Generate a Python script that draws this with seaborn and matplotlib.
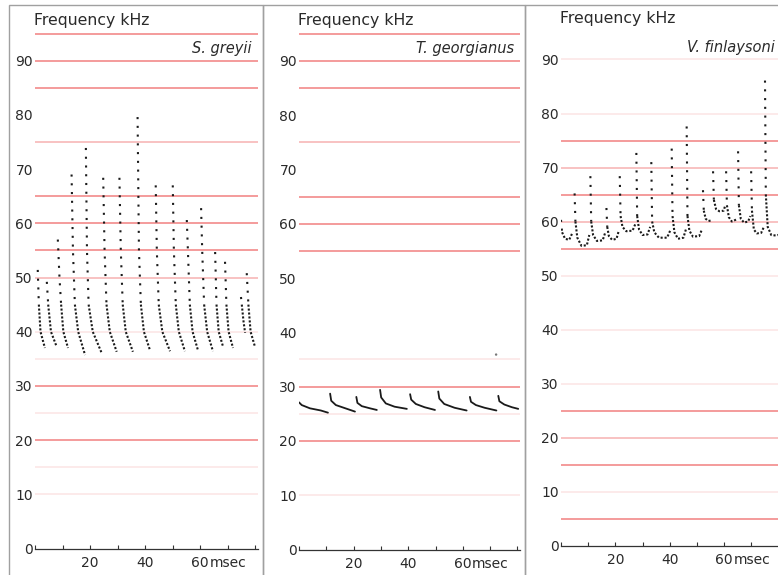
import matplotlib
matplotlib.use("Agg")
import matplotlib.pyplot as plt
import seaborn as sns
import pandas as pd
from matplotlib.patches import Rectangle

sns.set_theme(style="white")
plt.rcParams["font.family"] = ["DejaVu Sans"]

# ---------------- data ----------------
species = ["S. greyii", "T. georgianus", "V. finlaysoni"]
freq_ticks = [0, 10, 20, 30, 40, 50, 60, 70, 80, 90]
time_ticks = [20, 40, 60]
time_minor = [0, 10, 30, 50, 70, 80]
grid_levels = [5, 10, 15, 20, 25, 30, 35, 40, 45, 50, 55, 60, 65, 70, 75, 80, 85, 90, 95]
# 0 = no line, 1 = faint, 2 = medium, 3 = strong
grid_p1 = [0, 1, 1, 3, 1, 3, 1, 1, 0, 2, 3, 3, 3, 0, 2, 0, 3, 3, 3]
grid_p2 = [0, 1, 0, 3, 1, 3, 1, 0, 0, 0, 3, 3, 3, 0, 2, 0, 3, 3, 3]
grid_p3 = [3, 1, 3, 2, 3, 1, 0, 1, 0, 1, 3, 2, 3, 2, 3, 1, 0, 1, 0]

# S. greyii calls (time msec, frequency kHz)
p1_t = [
    [1.0, 1.4, 2.0, 3.6],
    [4.3, 4.8, 5.8, 7.9],
    [8.3, 8.9, 9.5, 10.3, 12.0],
    [13.3, 13.8, 14.5, 15.7, 18.2],
    [18.5, 18.9, 19.5, 21.0, 24.3],
    [24.8, 25.3, 26.0, 27.2, 29.7],
    [30.7, 31.2, 31.9, 33.0, 35.6],
    [37.3, 37.8, 38.5, 39.6, 41.8],
    [43.9, 44.3, 45.0, 46.3, 49.1],
    [50.1, 50.5, 51.2, 52.3, 54.5],
    [55.2, 55.6, 56.3, 57.3, 59.3],
    [60.4, 60.8, 61.5, 62.6, 64.7],
    [65.5, 66.0, 66.8, 68.4],
    [69.1, 69.6, 70.4, 72.0],
    [74.9, 75.2, 75.8, 76.4],
    [77.0, 77.6, 78.4, 80.0],
]
p1_f = [
    [51.4, 45, 40, 37.0],
    [49.2, 45, 40, 37.2],
    [57, 50, 45, 40, 37],
    [69, 55, 45, 40, 35.7],
    [73.9, 55, 45, 40, 36],
    [68.4, 55, 45, 40, 36.3],
    [68.4, 55, 45, 40, 36.3],
    [79.6, 55, 45, 40, 36.6],
    [67, 55, 45, 40, 36.4],
    [67, 55, 45, 40, 36.4],
    [60.6, 55, 45, 40, 36.5],
    [62.8, 55, 45, 40, 36.4],
    [54.7, 45, 40, 37.2],
    [52.9, 45, 40, 37],
    [46.4, 45, 42, 39.8],
    [50.8, 45, 40, 37.2],
]

# T. georgianus calls
p2_t = [
    [0.0, 1.0, 4.0, 8.0, 10.6],
    [11.4, 11.8, 13.5, 17.0, 20.5],
    [21.0, 21.4, 23.0, 26.0, 28.5],
    [29.7, 30.1, 31.8, 35.0, 39.5],
    [40.7, 41.1, 42.8, 46.0, 49.8],
    [51.0, 51.4, 53.2, 57.0, 61.4],
    [62.6, 63.0, 64.8, 68.0, 72.3],
    [73.0, 73.4, 75.2, 78.0, 80.3],
]
p2_f = [
    [27.1, 26.6, 26.0, 25.6, 25.2],
    [28.7, 27.4, 26.6, 26.0, 25.4],
    [28.1, 27.0, 26.4, 26.0, 25.7],
    [29.4, 28.0, 26.9, 26.3, 25.9],
    [28.6, 27.6, 26.8, 26.2, 25.7],
    [29.1, 27.8, 26.8, 26.1, 25.6],
    [28.1, 27.2, 26.6, 26.1, 25.6],
    [28.3, 27.3, 26.7, 26.2, 25.9],
]
p2_stray_t = [72.2]
p2_stray_f = [35.9]

# V. finlaysoni calls
p3_t = [
    [0.0, 0.4, 1.5, 3.0, 4.3],
    [5.0, 5.3, 6.0, 7.5, 9.5, 10.4],
    [10.8, 11.1, 11.8, 13.2, 15.3, 16.3],
    [16.7, 17.0, 17.6, 18.8, 20.4, 21.2],
    [21.6, 21.9, 22.6, 24.0, 26.3, 27.3],
    [27.7, 28.0, 28.7, 30.0, 31.8, 32.8],
    [33.2, 33.5, 34.3, 36.0, 39.0, 40.3],
    [40.7, 41.0, 41.7, 43.0, 45.0, 45.9],
    [46.2, 46.5, 47.2, 48.5, 50.8, 51.8],
    [52.2, 52.5, 53.2, 54.2, 55.5],
    [55.9, 56.2, 57.0, 58.2, 59.8, 60.4],
    [60.7, 61.0, 61.7, 62.8, 64.6],
    [65.1, 65.4, 66.1, 67.3, 68.8, 69.6],
    [69.9, 70.2, 70.9, 72.0, 73.6, 74.6],
    [75.0, 75.3, 76.0, 77.3, 79.0, 80.5],
]
p3_f = [
    [60.3, 58.0, 56.8, 56.6, 58.0],
    [65.2, 60, 57, 55.5, 55.6, 57.5],
    [68.4, 60, 57.5, 56.4, 56.5, 58],
    [62.5, 59, 57.3, 56.6, 56.8, 58.2],
    [68.4, 61, 59, 58.2, 58.3, 59.5],
    [72.7, 61, 58.5, 57.5, 57.6, 59],
    [71, 60, 58, 57.0, 57.0, 58.5],
    [73.5, 61, 58, 56.8, 57, 58.5],
    [77.6, 61, 58.3, 57.2, 57.3, 58.5],
    [65.8, 62, 60.5, 60.1, 60.2],
    [69.3, 64, 62.3, 61.9, 62.0, 63],
    [69.3, 63, 60.8, 60.0, 60.4],
    [73, 63, 60.5, 59.8, 60, 61],
    [69.3, 62, 58.5, 57.8, 57.9, 59],
    [86.1, 65, 59, 57.5, 57.4, 57.6],
]


def build_frame(calls_t, calls_f, mode):
    """Split every call into a sparse (steep) part and a dense (tail) part."""
    rows = []
    for i, (ts, fs) in enumerate(zip(calls_t, calls_f)):
        if mode == "solid":
            for t, f in zip(ts, fs):
                rows.append((f"{i}s", "solid", t, f))
            continue
        if mode == "p1":
            k = next(j for j, f in enumerate(fs) if f <= 45)
        else:
            k = 1
        for j, (t, f) in enumerate(zip(ts, fs)):
            if j <= k:
                rows.append((f"{i}u", "sparse", t, f))
            if j >= k:
                rows.append((f"{i}l", "dense", t, f))
    return pd.DataFrame(rows, columns=["seg", "part", "t", "f"])


frames = [
    build_frame(p1_t, p1_f, "p1"),
    build_frame(p2_t, p2_f, "solid"),
    build_frame(p3_t, p3_f, "p3"),
]
grids = [grid_p1, grid_p2, grid_p3]

# ---------------- layout (pixels of a 778x575 canvas) ----------------
W, H = 778, 575
panel_geom = [
    dict(left=35, zero=548.5, pxms=2.75, pxk=5.42),
    dict(left=299, zero=549.5, pxms=2.73, pxk=5.43),
    dict(left=561, zero=545.5, pxms=2.72, pxk=5.40),
]
frame_x = [(9, 263), (263, 525), (525, 800)]
XMAX, YMAX = 81, 100

fig = plt.figure(figsize=(W / 100, H / 100), dpi=100)
fig.patch.set_facecolor("white")

for x0, x1 in frame_x:
    fig.add_artist(Rectangle((x0 / W, -0.05), (x1 - x0) / W, 1.05 - 5 / H,
                             transform=fig.transFigure, fill=False,
                             ec="#a0a0a0", lw=1.0, zorder=0))

red = (0.93, 0.33, 0.33)
alpha_map = {1: 0.14, 2: 0.42, 3: 0.68}
dash_map = {"sparse": (1, 3.2), "dense": (1, 0.9), "solid": ""}
ink = "#1a1a1a"
txt = "#2a2a2a"

for i, g in enumerate(panel_geom):
    ax = fig.add_axes([g["left"] / W, (H - g["zero"]) / H,
                       XMAX * g["pxms"] / W, YMAX * g["pxk"] / H])
    ax.set_facecolor("none")
    ax.set_xlim(0, XMAX)
    ax.set_ylim(0, YMAX)

    for lev, s in zip(grid_levels, grids[i]):
        if s:
            ax.axhline(lev, color=red, alpha=alpha_map[s], lw=1.2, zorder=1)

    df = frames[i]
    sns.lineplot(data=df, x="t", y="f", units="seg", estimator=None, sort=False,
                 style="part", dashes={k: dash_map[k] for k in df["part"].unique()},
                 color=ink, linewidth=1.5 if i != 1 else 1.3,
                 legend=False, ax=ax, zorder=3)
    if i == 1:
        sns.scatterplot(x=p2_stray_t, y=p2_stray_f, s=3, color="#777777",
                        edgecolor="none", ax=ax, zorder=3, legend=False)

    ax.set_xlabel("")
    ax.set_ylabel("")
    for side in ("left", "top", "right"):
        ax.spines[side].set_visible(False)
    ax.spines["bottom"].set_color("#333333")
    ax.spines["bottom"].set_linewidth(0.9)

    ax.set_xticks(time_ticks)
    ax.set_xticklabels([str(v) for v in time_ticks])
    ax.set_xticks(time_minor, minor=True)
    ax.tick_params(axis="x", which="both", direction="in", length=3, width=0.8,
                   color="#333333", pad=5.5, labelsize=10, labelcolor=txt,
                   bottom=True)
    ax.set_yticks(freq_ticks)
    ax.set_yticklabels([str(v) for v in freq_ticks])
    ax.tick_params(axis="y", length=0, pad=1.5, labelsize=10, labelcolor=txt, left=True)

    ax.annotate("msec", xy=(63.4, 0), xycoords="data", xytext=(0, -5.5),
                textcoords="offset points", ha="left", va="top",
                fontsize=10, color=txt, annotation_clip=False)
    ax.text(-0.5, 97.5, "Frequency kHz", ha="left", va="center",
            fontsize=11.3, color=txt, clip_on=False)
    ax.text(78.8, 92.2, species[i], ha="right", va="center", fontsize=10.5,
            style="italic", color=txt, clip_on=False)

fig.savefig("out.png", dpi=100, facecolor="white")
